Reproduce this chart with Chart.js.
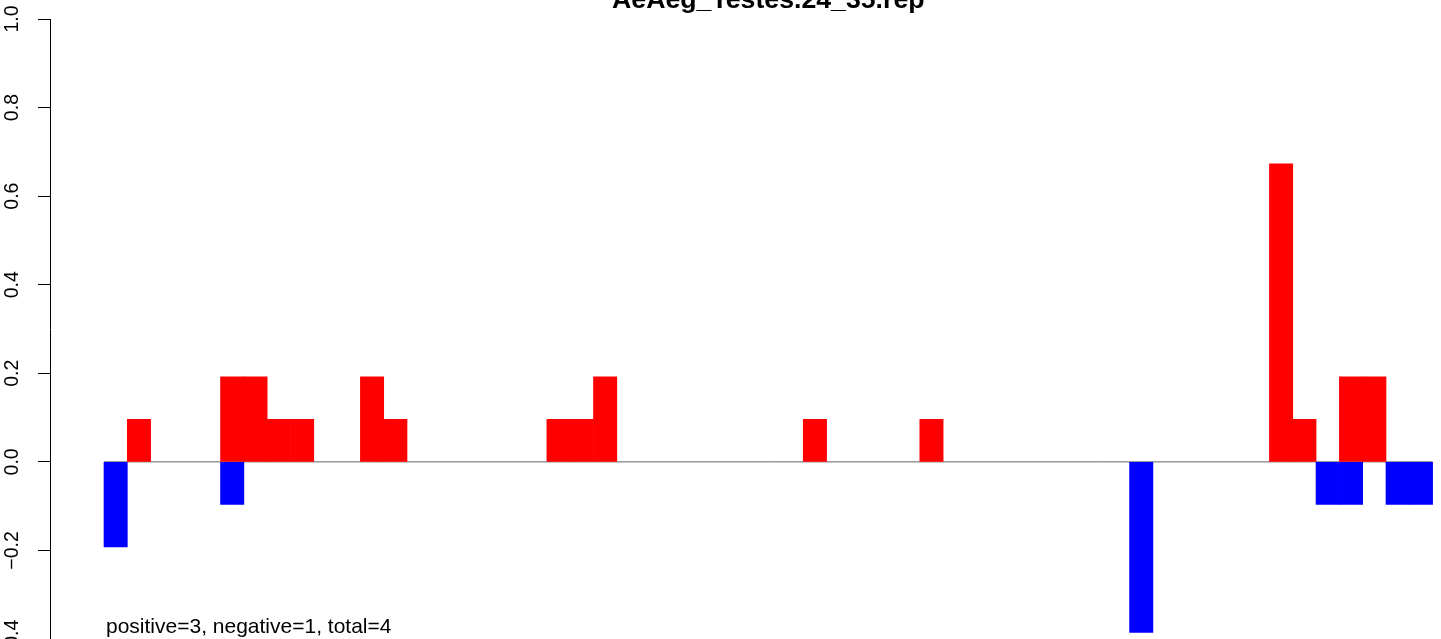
<!DOCTYPE html>
<html>
<head>
<meta charset="utf-8">
<title>AeAeg_Testes.24_35.rep</title>
<script src="https://cdn.jsdelivr.net/npm/chart.js@4.4.1/dist/chart.umd.min.js"></script>
<style>
  html, body { margin: 0; padding: 0; background: #fff; overflow: hidden; }
  canvas { display: block; }
</style>
</head>
<body>
<canvas id="barChart" width="1441" height="639"></canvas>
<script>
// dados do gráfico
const chartTitle = 'AeAeg_Testes.24_35.rep';
const noteText = 'positive=3, negative=1, total=4';
const yTicks = [-0.4, -0.2, 0.0, 0.2, 0.4, 0.6, 0.8, 1.0];

const positiveValues = [
  0, 0.096, 0, 0, 0, 0.192, 0.192, 0.096, 0.096, 0,
  0, 0.192, 0.096, 0, 0, 0, 0, 0, 0, 0.096,
  0.096, 0.192, 0, 0, 0, 0, 0, 0, 0, 0,
  0.096, 0, 0, 0, 0, 0.096, 0, 0, 0, 0,
  0, 0, 0, 0, 0, 0, 0, 0, 0, 0,
  0.673, 0.096, 0, 0.192, 0.192, 0, 0
];
const negativeValues = [
  -0.192, 0, 0, 0, 0, -0.096, 0, 0, 0, 0,
  0, 0, 0, 0, 0, 0, 0, 0, 0, 0,
  0, 0, 0, 0, 0, 0, 0, 0, 0, 0,
  0, 0, 0, 0, 0, 0, 0, 0, 0, 0,
  0, 0, 0, 0, -0.385, 0, 0, 0, 0, 0,
  0, 0, -0.096, -0.096, 0, -0.096, -0.096
];

Chart.defaults.font.family = "'Liberation Sans', Arial, Helvetica, sans-serif";
Chart.defaults.color = '#000';

// barras vazias (0) não são desenhadas
function toPoints(values) {
  return values.map((v, i) => ({ x: i + 0.5, y: v === 0 ? null : v }));
}

const nBins = positiveValues.length;

// título e texto de contagem
const textPlugin = {
  id: 'rText',
  afterDraw(chart) {
    const ctx = chart.ctx;
    const xs = chart.scales.x;
    const ys = chart.scales.y;
    ctx.save();
    ctx.fillStyle = '#000';
    ctx.textAlign = 'center';
    ctx.textBaseline = 'alphabetic';
    ctx.font = "bold 26.7px 'Liberation Sans', Arial, sans-serif";
    ctx.fillText(chartTitle, xs.getPixelForValue(nBins / 2), 8);
    ctx.textAlign = 'left';
    ctx.font = "21px 'Liberation Sans', Arial, sans-serif";
    ctx.fillText(noteText, xs.getPixelForValue(0) + 2, ys.getPixelForValue(-0.386));
    ctx.restore();
  }
};

const ctx = document.getElementById('barChart');

new Chart(ctx, {
  type: 'bar',
  data: {
    datasets: [
      {
        label: 'positive',
        data: toPoints(positiveValues),
        backgroundColor: '#ff0000',
        borderWidth: 0,
        grouped: false,
        barPercentage: 1,
        categoryPercentage: 1,
        order: 1
      },
      {
        label: 'negative',
        data: toPoints(negativeValues),
        backgroundColor: '#0000ff',
        borderWidth: 0,
        grouped: false,
        barPercentage: 1,
        categoryPercentage: 1,
        order: 1
      },
      {
        type: 'line',
        label: 'zero',
        data: [{ x: 0, y: 0 }, { x: nBins, y: 0 }],
        borderColor: '#666666',
        backgroundColor: '#666666',
        borderWidth: 1,
        pointRadius: 0,
        fill: false,
        order: 2
      }
    ]
  },
  options: {
    responsive: false,
    animation: false,
    layout: { padding: { top: 19, left: 0, right: 0, bottom: 0 } },
    plugins: {
      legend: { display: false },
      tooltip: { enabled: false },
      title: { display: false }
    },
    scales: {
      x: {
        type: 'linear',
        display: false,
        offset: false,
        bounds: 'data',
        min: -2.317,
        max: 57.36,
        grid: { offset: false }
      },
      y: {
        min: -0.4,
        max: 1.0,
        afterBuildTicks: (scale) => {
          scale.ticks = yTicks.map(v => ({ value: v }));
        },
        afterFit: (scale) => {
          scale.width = 50;
          scale.paddingTop = 0;
          scale.paddingBottom = 0;
        },
        border: { display: true, color: '#000', width: 1 },
        grid: {
          drawOnChartArea: false,
          drawTicks: true,
          tickLength: 12,
          tickColor: '#000',
          tickWidth: 1
        },
        ticks: {
          minRotation: 90,
          maxRotation: 90,
          crossAlign: 'center',
          padding: 6,
          font: { size: 19.5 },
          color: '#000',
          callback: (v) => (v < 0 ? '\u2212' : '') + Math.abs(v).toFixed(1)
        }
      }
    }
  },
  plugins: [textPlugin]
});
</script>
</body>
</html>
